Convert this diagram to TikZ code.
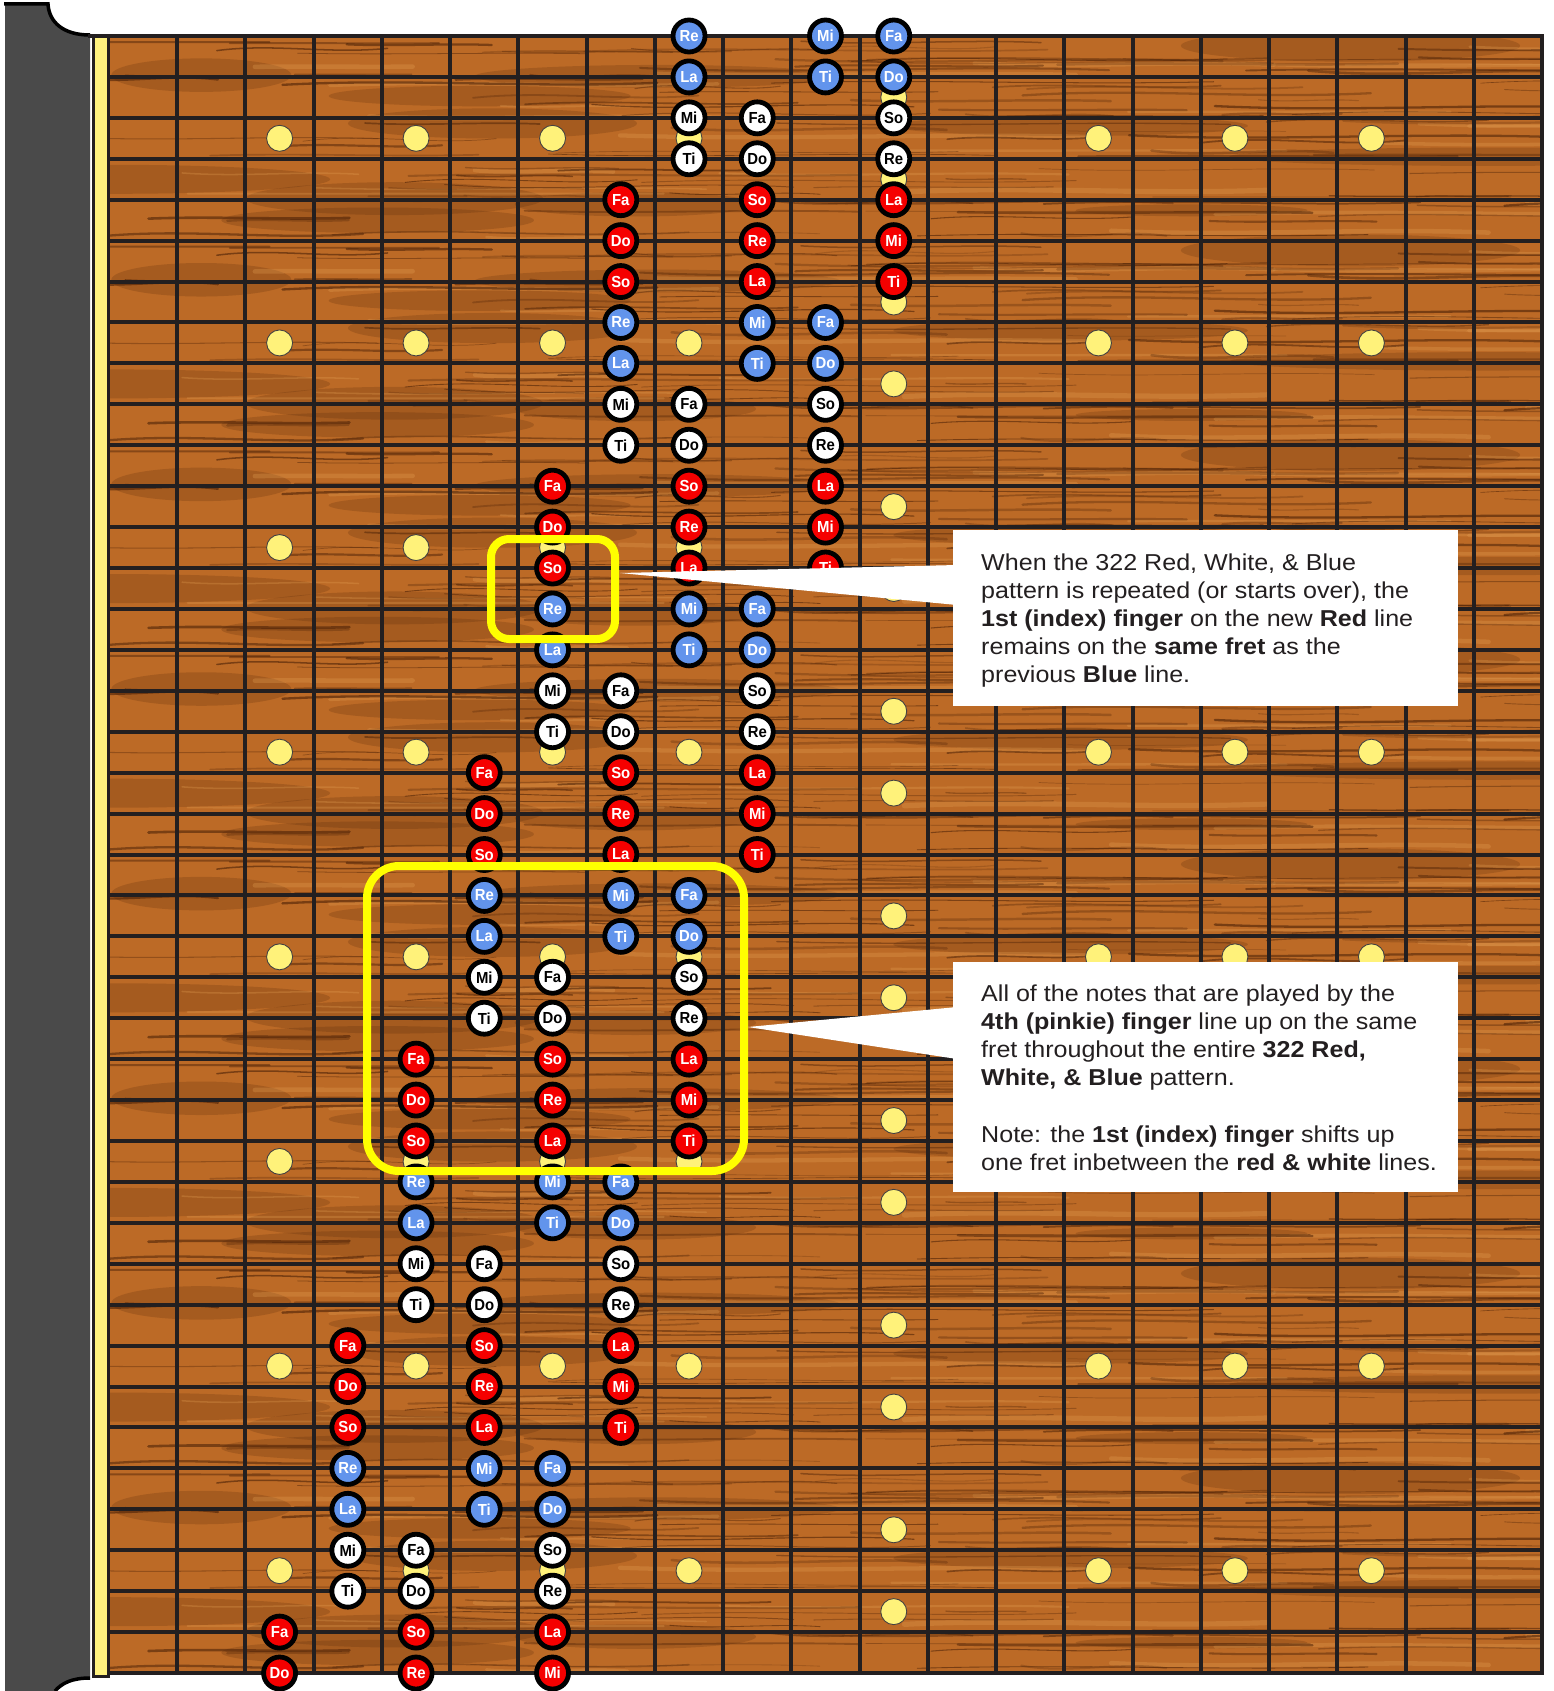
\documentclass[tikz,border=0pt]{standalone}
\usepackage{fontspec}
\setmainfont{Liberation Sans}
\newfontfamily\callfont[FakeStretch=1.09]{Liberation Sans}
\newfontfamily\notefont[FakeStretch=0.93]{Liberation Sans}
\usetikzlibrary{calc}
\definecolor{gridc}{HTML}{231F20}
\definecolor{panel}{HTML}{4A4A4A}
\definecolor{nutc}{HTML}{FFF27F}
\definecolor{dotc}{HTML}{FFF27A}
\definecolor{woodbase}{HTML}{BC6A26}
\definecolor{wooddark}{HTML}{4A2006}
\definecolor{woodlight}{HTML}{E8A458}
\definecolor{fillr}{RGB}{245,0,0}
\definecolor{fillb}{RGB}{98,148,236}
\definecolor{fillw}{RGB}{255,255,255}
\definecolor{textr}{RGB}{255,255,255}
\definecolor{textb}{RGB}{255,255,255}
\definecolor{textw}{RGB}{0,0,0}
\definecolor{hly}{RGB}{255,255,0}
\definecolor{txt}{HTML}{231F20}
\tikzset{
  notebase/.style={circle, draw=black, line width=4.8pt, minimum size=32pt, inner sep=0pt,
    font=\notefont\fontsize{16}{16}\selectfont\bfseries},
  fretdot/.style={circle, fill=dotc, draw=gridc!85, line width=0.9pt, minimum size=26pt, inner sep=0pt},
  hlbox/.style={draw=hly, line width=8pt, inner sep=0pt},
  callbox/.style={fill=white, inner sep=0pt, anchor=north west},
  calltext/.style={anchor=base west, inner sep=0pt, text=txt, font=\callfont\fontsize{23}{28}\selectfont},
  gridline/.style={draw=gridc, line width=4pt},
}
\begin{document}
\begin{tikzpicture}[x=1pt,y=-1pt]
\useasboundingbox (0,0) rectangle (1554,1691);
\fill[white] (0,0) rectangle (1554,1691);
% dark side panel
\fill[panel] (5,4) -- (48,4) .. controls (49,22) and (63,35) .. (90,35) -- (90,1678)
   .. controls (72,1678) and (62,1683) .. (55,1691) -- (5,1691) -- cycle;
\draw[black, line width=3.5pt] (4,4) -- (48,4) .. controls (49,22) and (63,35) .. (90,35);
\draw[black, line width=3.5pt] (90,1678) .. controls (72,1678) and (62,1683) .. (55,1691);
% wood
\begin{scope}
\clip (109,36) rectangle (1542,1673);
\fill[woodbase] (109,36) rectangle (1542,1673);
\foreach \t in {0,...,7}{
  \pgfmathsetseed{271}
  \pgfmathsetmacro\ty{36+\t*204.625}
  \foreach \i in {1,...,12}{
    \pgfmathsetmacro\bx{109+rnd*1433}
    \pgfmathsetmacro\by{\ty+rnd*204.6}
    \pgfmathsetmacro\brx{60+rnd*220}
    \pgfmathsetmacro\bry{5+rnd*12}
    \fill[wooddark, opacity=0.2] (\bx,\by) ellipse [x radius=\brx, y radius=\bry];
  }
  \foreach \i in {1,...,26}{
    \pgfmathsetmacro\gx{60+rnd*1500}
    \pgfmathsetmacro\gy{\ty+rnd*204.6}
    \pgfmathsetmacro\gl{120+rnd*380}
    \pgfmathsetmacro\gs{(rnd-0.5)*14}
    \pgfmathsetmacro\gw{1.5+rnd*4}
    \draw[woodlight, line width=\gw, opacity=0.28, line cap=round]
      (\gx,\gy) .. controls ({\gx+\gl*0.33},{\gy+\gs}) and ({\gx+\gl*0.66},{\gy-\gs*0.5}) .. ({\gx+\gl},{\gy+\gs*0.3});
  }
  \foreach \i in {1,...,110}{
    \pgfmathsetmacro\gx{60+rnd*1500}
    \pgfmathsetmacro\gy{\ty+rnd*204.6}
    \pgfmathsetmacro\gl{80+rnd*400}
    \pgfmathsetmacro\gs{(rnd-0.5)*18}
    \pgfmathsetmacro\gw{0.6+rnd*2}
    \pgfmathsetmacro\go{0.2+rnd*0.4}
    \draw[wooddark, line width=\gw, opacity=\go, line cap=round]
      (\gx,\gy) .. controls ({\gx+\gl*0.33},{\gy+\gs}) and ({\gx+\gl*0.66},{\gy-\gs*0.5}) .. ({\gx+\gl},{\gy+\gs*0.3});
  }
}
\end{scope}
% strings and frets
\foreach \k in {1,...,39} \draw[gridline] (109,{36+\k*40.925}) -- (1542,{36+\k*40.925});
\foreach \j in {1,...,20} \draw[gridline] ({109+\j*68.238},36) -- ({109+\j*68.238},1673);
% nut
\filldraw[fill=nutc, draw=gridc, line width=3pt] (93.5,36) rectangle (108,1676.5);
\draw[gridc, line width=4.5pt] (88,36) -- (1542,36) -- (1542,1673) -- (108,1673);
% fret dots
\foreach \c in {2,4,6,8,14,16,18}
  \foreach \r in {2,7,...,37}
    \node[fretdot] (d-\c-\r) at ({109+(\c+0.5)*68.238},{36+(\r+0.5)*40.925}) {};
\foreach \r in {1,3,6,8,11,13,16,18,21,23,26,28,31,33,36,38}
  \node[fretdot] (d-11-\r) at ({109+11.5*68.238},{36+(\r+0.5)*40.925}) {};
% notes
\foreach \c/\k/\n/\q in {
11/0/Fa/b, 11/1/Do/b, 11/2/So/w, 11/3/Re/w, 11/4/La/r, 11/5/Mi/r, 11/6/Ti/r,
10/0/Mi/b, 10/1/Ti/b, 10/7/Fa/b, 10/8/Do/b, 10/9/So/w, 10/10/Re/w, 10/11/La/r, 10/12/Mi/r, 10/13/Ti/r,
9/2/Fa/w, 9/3/Do/w, 9/4/So/r, 9/5/Re/r, 9/6/La/r, 9/7/Mi/b, 9/8/Ti/b, 9/14/Fa/b, 9/15/Do/b, 9/16/So/w, 9/17/Re/w, 9/18/La/r, 9/19/Mi/r, 9/20/Ti/r,
8/0/Re/b, 8/1/La/b, 8/2/Mi/w, 8/3/Ti/w, 8/9/Fa/w, 8/10/Do/w, 8/11/So/r, 8/12/Re/r, 8/13/La/r, 8/14/Mi/b, 8/15/Ti/b, 8/21/Fa/b, 8/22/Do/b, 8/23/So/w, 8/24/Re/w, 8/25/La/r, 8/26/Mi/r, 8/27/Ti/r,
7/4/Fa/r, 7/5/Do/r, 7/6/So/r, 7/7/Re/b, 7/8/La/b, 7/9/Mi/w, 7/10/Ti/w, 7/16/Fa/w, 7/17/Do/w, 7/18/So/r, 7/19/Re/r, 7/20/La/r, 7/21/Mi/b, 7/22/Ti/b, 7/28/Fa/b, 7/29/Do/b, 7/30/So/w, 7/31/Re/w, 7/32/La/r, 7/33/Mi/r, 7/34/Ti/r,
6/11/Fa/r, 6/12/Do/r, 6/13/So/r, 6/14/Re/b, 6/15/La/b, 6/16/Mi/w, 6/17/Ti/w, 6/23/Fa/w, 6/24/Do/w, 6/25/So/r, 6/26/Re/r, 6/27/La/r, 6/28/Mi/b, 6/29/Ti/b, 6/35/Fa/b, 6/36/Do/b, 6/37/So/w, 6/38/Re/w, 6/39/La/r, 6/40/Mi/r,
5/18/Fa/r, 5/19/Do/r, 5/20/So/r, 5/21/Re/b, 5/22/La/b, 5/23/Mi/w, 5/24/Ti/w, 5/30/Fa/w, 5/31/Do/w, 5/32/So/r, 5/33/Re/r, 5/34/La/r, 5/35/Mi/b, 5/36/Ti/b,
4/25/Fa/r, 4/26/Do/r, 4/27/So/r, 4/28/Re/b, 4/29/La/b, 4/30/Mi/w, 4/31/Ti/w, 4/37/Fa/w, 4/38/Do/w, 4/39/So/r, 4/40/Re/r,
3/32/Fa/r, 3/33/Do/r, 3/34/So/r, 3/35/Re/b, 3/36/La/b, 3/37/Mi/w, 3/38/Ti/w,
2/39/Fa/r, 2/40/Do/r}
  \node[notebase, fill=fill\q, text=text\q] (n-\c-\k) at ({109+(\c+0.5)*68.238},{36+\k*40.925}) {\n};
% highlight boxes
\node[hlbox, minimum width=124pt, minimum height=100pt, rounded corners=18pt] (h1) at (553,589) {};
\node[hlbox, minimum width=377pt, minimum height=305pt, rounded corners=32pt] (h2) at (555.5,1018.5) {};
% callouts
\node[callbox, minimum width=505pt, minimum height=176pt] (c1) at (953,530) {};
\node[callbox, minimum width=505pt, minimum height=230pt] (c2) at (953,962) {};
\coordinate (t1) at (620,573);
\coordinate (t2) at (748,1027);
\fill[white] (t1) -- ($(c1.north west)+(4,35)$) -- ($(c1.north west)+(4,75)$) -- cycle;
\fill[white] (t2) -- ($(c2.north west)+(4,45)$) -- ($(c2.north west)+(4,97)$) -- cycle;
\node[calltext] (c1a) at (981,570) {When the 322 Red, White, \& Blue};
\node[calltext] (c1b) at (981,598.2) {pattern is repeated (or starts over), the};
\node[calltext] (c1c) at (981,626.4) {\textbf{1st (index) finger} on the new \textbf{Red} line};
\node[calltext] (c1d) at (981,654.6) {remains on the \textbf{same fret} as the};
\node[calltext] (c1e) at (981,682.8) {previous \textbf{Blue} line.};
\node[calltext] (c2a) at (981,1001) {All of the notes that are played by the};
\node[calltext] (c2b) at (981,1029.2) {\textbf{4th (pinkie) finger} line up on the same};
\node[calltext] (c2c) at (981,1057.4) {fret throughout the entire \textbf{322 Red,}};
\node[calltext] (c2d) at (981,1085.6) {\textbf{White, \& Blue} pattern.};
\node[calltext] (c2e) at (981,1142) {Note: the \textbf{1st (index) finger} shifts up};
\node[calltext] (c2f) at (981,1170.2) {one fret inbetween the \textbf{red \& white} lines.};
\end{tikzpicture}
\end{document}
